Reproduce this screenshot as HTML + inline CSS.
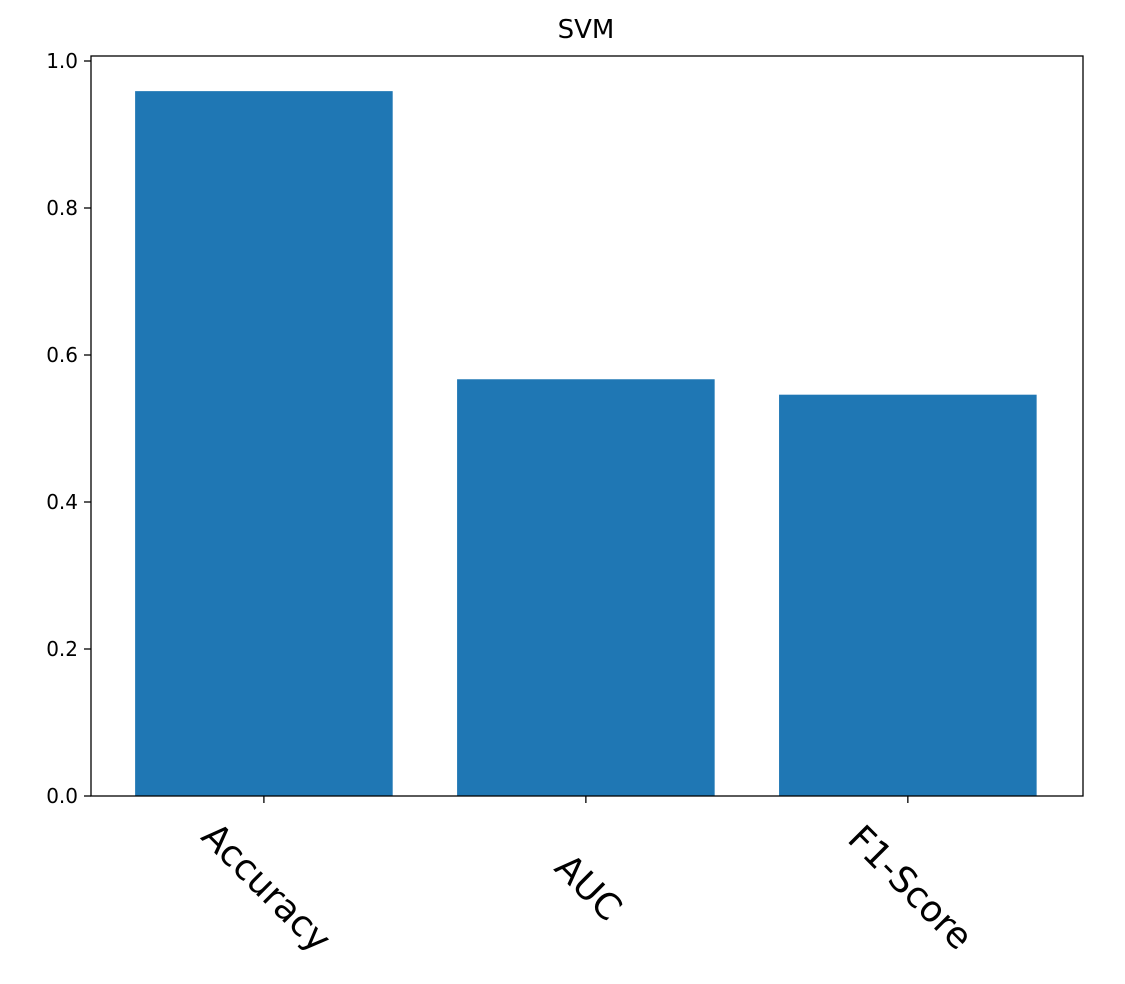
<!DOCTYPE html>
<html><head><meta charset="utf-8"><style>
body{margin:0;background:#fff;}
svg{display:block;font-family:"DejaVu Sans","Liberation Sans",sans-serif;}
</style></head><body>
<svg id="chart" width="1125" height="984" viewBox="0 0 1125 984">
<rect width="1125" height="984" fill="#fff"/>
<text x="586" y="38" text-anchor="middle" font-size="26" fill="#000">SVM</text>
<g id="bars"></g>
<g id="yaxis"></g>
<g id="xaxis"></g>
<rect x="91" y="56" width="992" height="740" fill="none" stroke="#000" stroke-width="1.3"/>
</svg>
<script>
const categories = ["Accuracy", "AUC", "F1-Score"];
const values = [0.959, 0.567, 0.546];
const yTicks = [0.0, 0.2, 0.4, 0.6, 0.8, 1.0];
const yTickLabels = ["0.0", "0.2", "0.4", "0.6", "0.8", "1.0"];

const L=91,R=1083,T=56,B=796;
const yMax=(B-T)/735;
const y=v=>B-(v/yMax)*(B-T);
const xMin=-0.537, xMax=2.544;
const x=i=>L+(i-xMin)/(xMax-xMin)*(R-L);
const ns="http://www.w3.org/2000/svg";
const mk=(t,a)=>{const e=document.createElementNS(ns,t);for(const k in a)e.setAttribute(k,a[k]);return e;};
const bw=(x(0.8)-x(0));
const bars=document.getElementById('bars'),ya=document.getElementById('yaxis'),xa=document.getElementById('xaxis');
values.forEach((v,i)=>{
  const r=mk('rect',{x:x(i)-bw/2,y:y(v),width:bw,height:B-y(v),fill:'#1f77b4'});
  
  
  bars.appendChild(r);
  const tk=mk('line',{x1:x(i),x2:x(i),y1:B,y2:B+7,stroke:'#000','stroke-width':1.3});
  
  
  xa.appendChild(tk);
  const t=mk('text',{x:0,y:0,'font-size':36,'text-anchor':'middle','dominant-baseline':'central',transform:`translate(${x(i)+2},${B+92}) rotate(45)`,fill:'#000'});
  t.textContent=categories[i];
  
  
  xa.appendChild(t);
});
yTicks.forEach((v,i)=>{
  const tk=mk('line',{x1:L-7,x2:L,y1:y(v),y2:y(v),stroke:'#000','stroke-width':1.3});
  
  
  ya.appendChild(tk);
  const t=mk('text',{x:L-13,y:y(v)+7,'font-size':20,'text-anchor':'end',fill:'#000'});
  t.textContent=yTickLabels[i];
  
  
  ya.appendChild(t);
});
</script>
</body></html>
